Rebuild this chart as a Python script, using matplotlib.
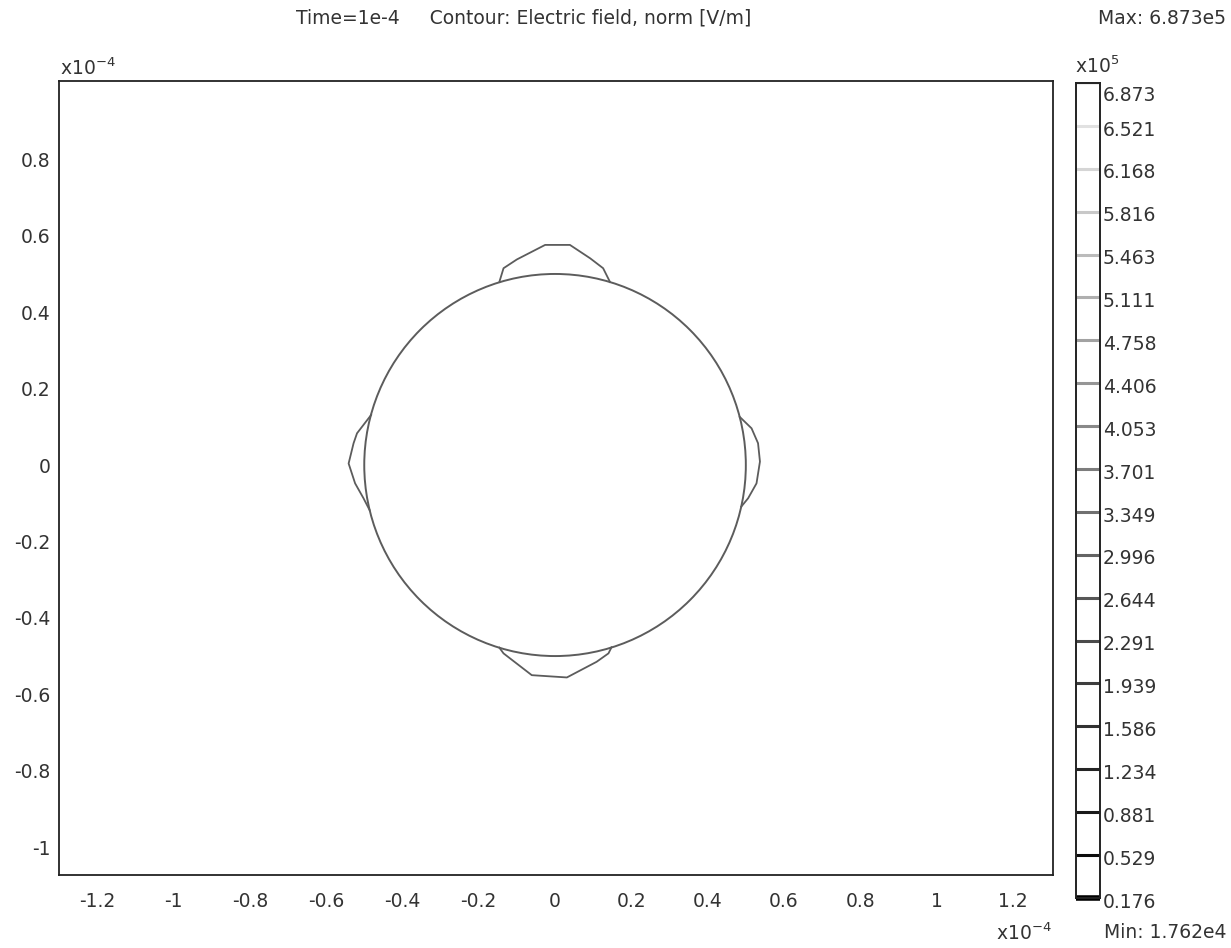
import matplotlib
matplotlib.use("Agg")
import matplotlib.pyplot as plt
import matplotlib.transforms as mtransforms
from matplotlib.patches import Circle
import numpy as np

# ---------------- data (units: x 1e-4 m) ----------------
circle_center = (0.0, 0.0)
circle_radius = 0.5

top_lobe_x = [-0.146, -0.135, -0.100, -0.026, 0.039, 0.092, 0.126, 0.144]
top_lobe_y = [0.479, 0.515, 0.538, 0.576, 0.576, 0.541, 0.515, 0.479]

bottom_lobe_x = [-0.146, -0.135, -0.061, 0.031, 0.109, 0.140, 0.148]
bottom_lobe_y = [-0.478, -0.493, -0.550, -0.556, -0.515, -0.493, -0.477]

left_lobe_x = [-0.482, -0.519, -0.528, -0.541, -0.524, -0.502, -0.486]
left_lobe_y = [0.131, 0.083, 0.057, 0.004, -0.048, -0.087, -0.118]

right_lobe_x = [0.484, 0.515, 0.532, 0.537, 0.528, 0.506, 0.488]
right_lobe_y = [0.126, 0.096, 0.057, 0.009, -0.048, -0.087, -0.109]

x_ticks = [-1.2, -1.0, -0.8, -0.6, -0.4, -0.2, 0.0, 0.2, 0.4, 0.6, 0.8, 1.0, 1.2]
x_tick_labels = ["-1.2", "-1", "-0.8", "-0.6", "-0.4", "-0.2", "0", "0.2", "0.4",
                 "0.6", "0.8", "1", "1.2"]
y_ticks = [-1.0, -0.8, -0.6, -0.4, -0.2, 0.0, 0.2, 0.4, 0.6, 0.8]
y_tick_labels = ["-1", "-0.8", "-0.6", "-0.4", "-0.2", "0", "0.2", "0.4", "0.6", "0.8"]

cb_levels = [6.873, 6.521, 6.168, 5.816, 5.463, 5.111, 4.758, 4.406, 4.053, 3.701,
             3.349, 2.996, 2.644, 2.291, 1.939, 1.586, 1.234, 0.881, 0.529, 0.176]
cb_labels = ["6.873", "6.521", "6.168", "5.816", "5.463", "5.111", "4.758", "4.406",
             "4.053", "3.701", "3.349", "2.996", "2.644", "2.291", "1.939", "1.586",
             "1.234", "0.881", "0.529", "0.176"]

title_text = "Time=1e-4     Contour: Electric field, norm [V/m]"
max_text = "Max: 6.873e5"
min_text = "Min: 1.762e4"

# ---------------- figure ----------------
W, H = 1231, 948
fig = plt.figure(figsize=(W / 100, H / 100), dpi=100)
plt.rcParams['font.family'] = ['DejaVu Sans']
FS = 13.5
TXT = '#333333'
LINE = '#5c5c5c'

def fx(px):
    return px / W

def fy(py):
    return 1 - py / H

ax = fig.add_axes([fx(59), fy(875), fx(1053) - fx(59), fy(81) - fy(875)])
ax.set_xlim(-1.300, 1.305)
ax.set_ylim(-1.073, 1.005)

ax.add_patch(Circle(circle_center, circle_radius, fill=False, edgecolor=LINE, lw=1.4))
for xs, ys in [(top_lobe_x, top_lobe_y), (bottom_lobe_x, bottom_lobe_y),
               (left_lobe_x, left_lobe_y), (right_lobe_x, right_lobe_y)]:
    ax.plot(xs, ys, color=LINE, lw=1.3)

ax.set_xticks(x_ticks)
ax.set_xticklabels(x_tick_labels)
ax.set_yticks(y_ticks)
ax.set_yticklabels(y_tick_labels)
ax.tick_params(axis='both', length=0, labelsize=FS, labelcolor=TXT)
ax.tick_params(axis='x', pad=12)
ax.tick_params(axis='y', pad=6)
for s in ax.spines.values():
    s.set_linewidth(1.3)
    s.set_color('#222222')

# axis multipliers
fig.text(fx(60), fy(68), r"x10$^{-4}$", fontsize=FS, color=TXT, ha='left', va='center')
fig.text(fx(1052), fy(933), r"x10$^{-4}$", fontsize=FS, color=TXT, ha='right', va='center')

# title and max/min
fig.text(fx(524), fy(18), title_text, fontsize=FS, color=TXT, ha='center', va='center')
fig.text(fx(1226), fy(18), max_text, fontsize=FS, color=TXT, ha='right', va='center')
fig.text(fx(1226), fy(933), min_text, fontsize=FS, color=TXT, ha='right', va='center')

# ---------------- colorbar ----------------
cax = fig.add_axes([fx(1076), fy(898), fx(1100) - fx(1076), fy(83) - fy(898)])
vmin, vmax = min(cb_levels), max(cb_levels)
cax.set_ylim(vmin, vmax)
cax.set_xlim(0, 1)
cmap = plt.get_cmap('gray')
for lev in cb_levels:
    frac = (lev - vmin) / (vmax - vmin)
    col = cmap(0.93 * frac)
    lw = 4 if lev == vmin else 2.2
    cax.plot([0, 1], [lev, lev], color=col, lw=lw, clip_on=False, solid_capstyle='butt')
cax.set_xticks([])
cax.set_yticks([])
for s in cax.spines.values():
    s.set_linewidth(1.4)
    s.set_color('#222222')

offset = mtransforms.ScaledTranslation(2 / 72, -3 / 72, fig.dpi_scale_trans)
for lev, lab in zip(cb_levels, cb_labels):
    extra = mtransforms.ScaledTranslation(0, -6 / 72, fig.dpi_scale_trans) if lev == vmax else mtransforms.Affine2D()
    cax.text(1.0, lev, lab, fontsize=FS, color=TXT, ha='left', va='center',
             transform=cax.get_yaxis_transform(which='grid') if False else
             mtransforms.blended_transform_factory(cax.transAxes, cax.transData) + offset + extra,
             clip_on=False)
fig.text(fx(1075), fy(66), r"x10$^{5}$", fontsize=FS, color=TXT, ha='left', va='center')

fig.savefig("out.png", dpi=100, facecolor='white')
